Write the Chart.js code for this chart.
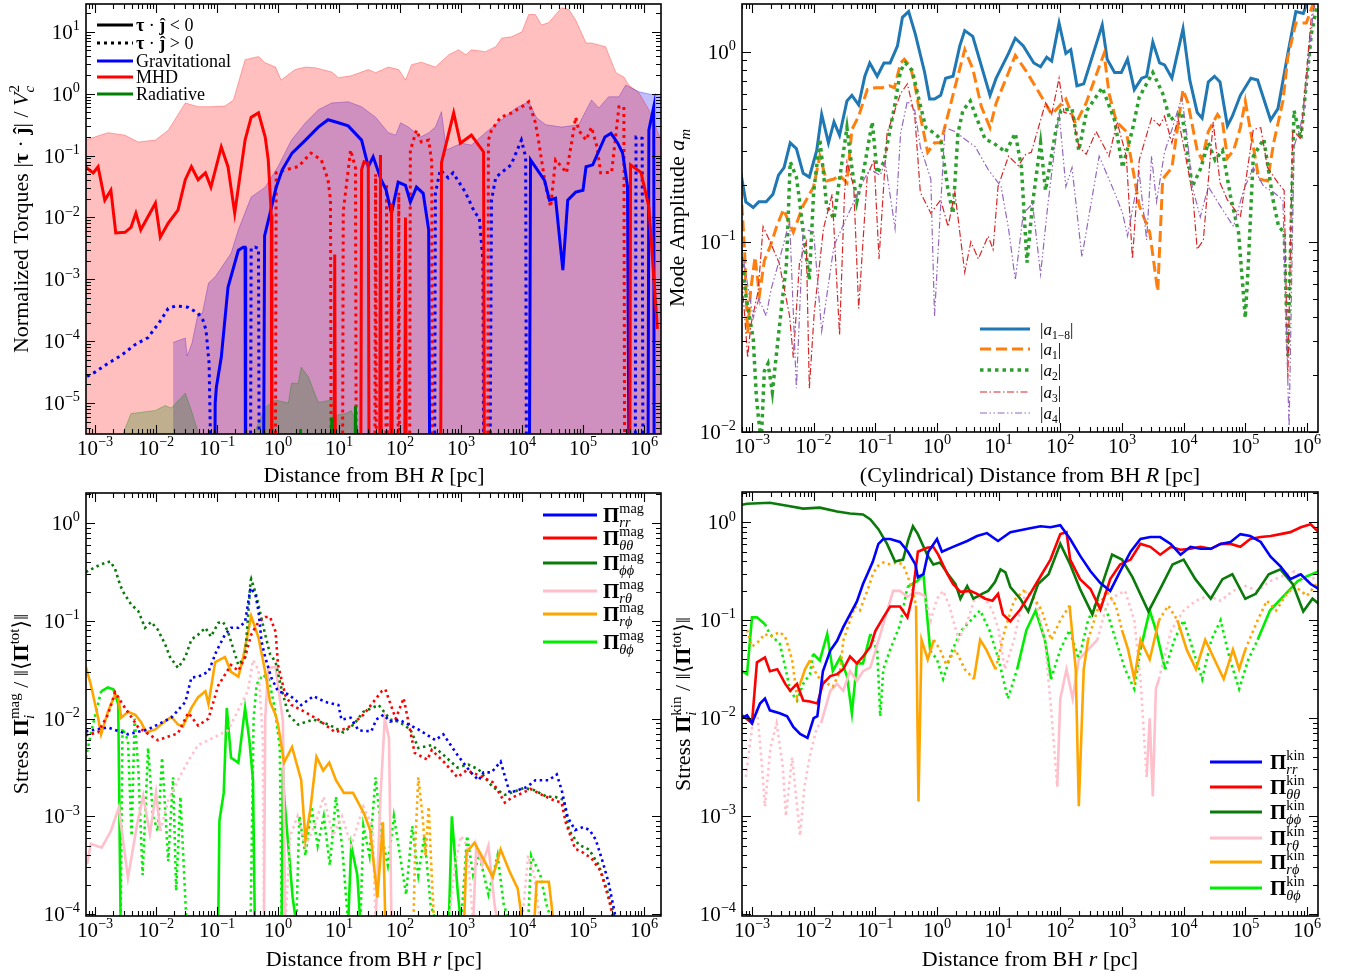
<!DOCTYPE html>
<html>
<head>
<meta charset="utf-8">
<script src="https://cdn.jsdelivr.net/npm/chart.js@4.4.1/dist/chart.umd.min.js"></script>
<style>
  body { margin: 0; background: #fff; width: 1353px; height: 978px; overflow: hidden; position: relative; }
  canvas { position: absolute; }
</style>
</head>
<body>
<canvas id="torques" width="662" height="489" style="left:0;top:0"></canvas>
<canvas id="modes" width="691" height="489" style="left:662px;top:0"></canvas>
<canvas id="stressMag" width="662" height="489" style="left:0;top:489px"></canvas>
<canvas id="stressKin" width="691" height="489" style="left:662px;top:489px"></canvas>
<script>
// all series are [log10 R, log10 value]; null = gap, -9 = sign flip (drops off the axis)

// ---- torques panel
const torqueEnvMHD = [[-3.16,-0.75],[-2.79,-0.63],[-2.51,-0.67],[-2.29,-0.78],[-2.01,-0.75],[-1.80,-0.59],[-1.52,-0.15],[-1.31,-0.21],[-1.10,-0.21],[-0.87,-0.20],[-0.73,-0.10],[-0.54,0.55],[-0.32,0.60],[-0.21,0.50],[-0.04,0.43],[0.05,0.22],[0.28,0.39],[0.45,0.43],[0.61,0.42],[0.88,0.35],[0.99,0.26],[1.20,0.29],[1.48,0.39],[1.60,0.34],[1.81,0.43],[1.98,0.39],[2.09,0.22],[2.19,0.47],[2.35,0.51],[2.58,0.43],[2.80,0.63],[2.96,0.71],[3.08,0.63],[3.17,0.71],[3.40,0.68],[3.57,0.76],[3.67,0.90],[3.83,0.92],[4.00,1.00],[4.11,1.28],[4.22,1.28],[4.32,1.11],[4.44,1.15],[4.65,1.39],[4.77,1.36],[4.88,1.19],[5.05,0.82],[5.14,0.82],[5.37,0.76],[5.54,0.34],[5.67,0.27],[5.75,0.14],[5.92,0.01],[6.08,-0.26],[6.28,-0.75]];
const torqueEnvGrav = [[-1.72,-4.02],[-1.52,-3.95],[-1.49,-4.24],[-1.41,-4.03],[-1.31,-3.55],[-1.24,-3.55],[-1.14,-3.06],[-1.03,-2.96],[-0.77,-2.58],[-0.65,-2.20],[-0.44,-1.67],[-0.21,-1.51],[0.00,-1.18],[0.22,-0.75],[0.45,-0.47],[0.66,-0.26],[0.88,-0.15],[1.15,-0.13],[1.37,-0.21],[1.60,-0.38],[1.81,-0.63],[1.93,-0.67],[2.01,-0.47],[2.14,-0.54],[2.34,-0.70],[2.47,-0.63],[2.58,-0.54],[2.68,-0.29],[2.76,-0.91],[3.01,-0.80],[3.17,-0.83],[3.40,-0.63],[3.67,-0.42],[3.90,-0.23],[4.11,-0.13],[4.24,-0.39],[4.39,-0.50],[4.65,-0.54],[4.93,-0.50],[5.14,-0.10],[5.26,-0.23],[5.42,-0.05],[5.59,-0.05],[5.70,0.14],[5.92,0.03],[6.16,-0.02],[6.28,-0.04]];
const torqueEnvRad = [[-2.54,-5.49],[-2.41,-5.17],[-2.24,-5.15],[-2.01,-5.12],[-1.85,-5.04],[-1.75,-5.08],[-1.52,-4.84],[-1.42,-5.12],[-1.31,-5.47],[-1.29,-9],[-0.39,-9],[-0.37,-5.44],[-0.21,-5.07],[-0.04,-4.95],[0.17,-5.00],[0.22,-4.68],[0.33,-4.68],[0.38,-4.42],[0.50,-4.58],[0.66,-4.99],[0.88,-4.95],[0.94,-5.20],[1.11,-5.17],[1.20,-5.12],[1.27,-5.28],[1.32,-5.5],[1.34,-9]];
const torqueGravNeg = [[-1.05,-9],[-1.03,-5.0],[-1.01,-4.74],[-0.93,-4.26],[-0.82,-3.13],[-0.65,-2.53],[-0.57,-2.48],[-0.54,-2.48],[-0.53,-9],[-0.52,null],
  [-0.25,-9],[-0.22,-2.3],[-0.13,-1.93],[-0.03,-1.51],[0.07,-1.23],[0.23,-0.96],[0.45,-0.75],[0.66,-0.54],[0.82,-0.42],[0.99,-0.47],[1.15,-0.52],[1.37,-0.75],[1.48,-1.18],[1.56,-1.02],[1.69,-1.39],[1.77,-1.55],[1.86,-1.93],[1.97,-1.43],[2.09,-1.48],[2.17,-1.75],[2.27,-1.51],[2.38,-1.61],[2.47,-2.2],[2.50,-9],[2.51,null],
  [4.11,-9],[4.14,-1.07],[4.37,-1.40],[4.45,-1.72],[4.55,-1.69],[4.67,-2.85],[4.75,-1.72],[4.88,-1.59],[5.00,-1.56],[5.05,-1.18],[5.16,-1.15],[5.36,-0.70],[5.46,-0.64],[5.57,-0.80],[5.65,-0.96],[5.73,-1.5],[5.77,-9],[5.78,null],
  [6.06,-9],[6.08,-0.59],[6.16,-0.21],[6.17,-9]];
const torqueGravPos = [[-3.13,-4.57],[-3.0,-4.50],[-2.79,-4.36],[-2.57,-4.23],[-2.35,-4.06],[-2.13,-3.94],[-1.92,-3.66],[-1.80,-3.47],[-1.67,-3.43],[-1.48,-3.45],[-1.31,-3.55],[-1.23,-3.66],[-1.18,-3.82],[-1.13,-4.36],[-1.11,-5.44],[-1.10,-9],[-1.09,null],
  [-0.46,-9],[-0.44,-2.5],[-0.38,-2.48],[-0.32,-2.5],[-0.30,-9],[-0.29,null],
  [2.56,-9],[2.58,-1.61],[2.66,-1.23],[2.79,-1.36],[2.87,-1.28],[3.07,-1.59],[3.23,-1.93],[3.30,-2.0],[3.36,-2.7],[3.38,-9],[3.39,null],
  [3.46,-9],[3.50,-1.72],[3.57,-1.35],[3.82,-1.15],[3.99,-0.75],[4.06,-1.02],[4.08,-9],[4.09,null],
  [5.85,-9],[5.87,-0.70],[5.97,-0.72],[5.99,-9]];
const torqueMHDNeg = [[-3.16,-1.18],[-3.03,-1.28],[-2.95,-1.18],[-2.84,-1.72],[-2.74,-1.56],[-2.66,-2.25],[-2.51,-2.24],[-2.41,-2.16],[-2.33,-1.93],[-2.25,-2.20],[-2.01,-1.77],[-1.93,-2.32],[-1.80,-2.09],[-1.64,-1.88],[-1.52,-1.39],[-1.42,-1.18],[-1.31,-1.39],[-1.19,-1.28],[-1.10,-1.51],[-0.93,-0.86],[-0.82,-1.18],[-0.71,-1.93],[-0.54,-0.75],[-0.44,-0.38],[-0.32,-0.31],[-0.21,-0.70],[-0.16,-1.07],[-0.11,-1.96],[-0.10,-9],[-0.09,null],
  [0.91,-9],[0.93,-2.6],[0.95,-9],[0.96,null],
  [1.35,-9],[1.37,-1.23],[1.41,-1.10],[1.48,-1.13],[1.50,-9],[1.51,null],
  [1.66,-9],[1.68,-0.99],[1.70,-9],[1.71,null],
  [1.84,-9],[1.86,-1.77],[1.88,-9],[1.89,null],
  [2.07,-9],[2.09,-2.0],[2.11,-9],[2.12,null],
  [2.66,-9],[2.68,-1.12],[2.88,-0.31],[2.99,-0.80],[3.17,-0.67],[3.37,-0.94],[3.39,-9],[3.40,null],
  [5.76,-9],[5.78,-1.15],[5.95,-1.27],[6.08,-1.83],[6.22,-3.8]];
const torqueMHDPos = [[-0.05,-9],[-0.03,-1.28],[0.12,-1.23],[0.33,-1.18],[0.54,-0.96],[0.71,-1.07],[0.82,-1.39],[0.86,-1.72],[0.88,-9],[0.89,null],
  [1.05,-9],[1.07,-1.9],[1.19,-0.91],[1.27,-1.2],[1.29,-9],[1.30,null],
  [1.58,-9],[1.60,-1.3],[1.62,-9],[1.63,null],
  [1.76,-9],[1.78,-1.45],[1.80,-9],[1.81,null],
  [1.96,-9],[1.98,-1.6],[2.0,-9],[2.01,null],
  [2.15,-9],[2.17,-0.91],[2.27,-0.59],[2.35,-0.78],[2.47,-0.75],[2.52,-1.1],[2.54,-9],[2.55,null],
  [3.43,-9],[3.45,-0.75],[3.50,-0.59],[3.65,-0.38],[3.83,-0.31],[4.00,-0.21],[4.11,-0.13],[4.22,-0.47],[4.27,-0.75],[4.39,-1.51],[4.47,-1.83],[4.55,-1.07],[4.65,-1.18],[4.73,-1.28],[4.82,-0.75],[4.88,-0.38],[4.93,-0.59],[5.05,-0.75],[5.14,-0.54],[5.23,-0.86],[5.29,-1.28],[5.47,-1.27],[5.59,-0.21],[5.67,-0.21],[5.69,-9]];
const torqueRad = [[0.35,-9],[0.37,-5.42],[0.39,-9],[0.40,null],[0.86,-9],[0.88,-5.23],[0.92,-9],[0.93,null],[1.24,-9],[1.27,-5.05],[1.30,-9]];

// ---- mode amplitude panel
const modeA18 = [[-3.23,-0.46],[-3.18,-0.64],[-3.10,-0.79],[-2.98,-0.82],[-2.89,-0.79],[-2.77,-0.79],[-2.66,-0.75],[-2.57,-0.65],[-2.48,-0.61],[-2.38,-0.48],[-2.28,-0.51],[-2.17,-0.64],[-2.07,-0.66],[-1.95,-0.52],[-1.87,-0.33],[-1.76,-0.48],[-1.67,-0.37],[-1.58,-0.44],[-1.46,-0.26],[-1.38,-0.23],[-1.27,-0.28],[-1.17,-0.13],[-1.09,-0.06],[-0.97,-0.13],[-0.86,-0.06],[-0.76,-0.06],[-0.64,0.03],[-0.56,0.18],[-0.46,0.21],[-0.35,0.09],[-0.20,-0.11],[-0.12,-0.25],[-0.04,-0.25],[0.06,-0.23],[0.14,-0.14],[0.26,-0.13],[0.37,0.03],[0.45,0.11],[0.58,0.08],[0.86,-0.23],[0.96,-0.14],[1.16,-0.01],[1.27,0.07],[1.40,0.03],[1.57,-0.06],[1.68,-0.08],[1.78,-0.03],[1.86,-0.05],[1.98,0.15],[2.09,-0.01],[2.17,0.01],[2.27,-0.18],[2.38,-0.17],[2.68,0.14],[2.76,-0.04],[2.88,-0.11],[2.99,-0.11],[3.09,-0.04],[3.20,-0.20],[3.32,-0.14],[3.40,-0.13],[3.50,0.05],[3.61,-0.06],[3.69,-0.07],[3.81,-0.14],[3.99,0.12],[4.10,-0.15],[4.22,-0.32],[4.30,-0.35],[4.40,-0.16],[4.50,-0.13],[4.59,-0.16],[4.71,-0.39],[4.79,-0.34],[4.92,-0.23],[5.09,-0.14],[5.20,-0.15],[5.41,-0.36],[5.53,-0.30],[5.69,-0.01],[5.82,0.21],[5.94,0.20],[6.02,0.27],[6.15,0.35]];
const modeA1 = [[-3.23,-0.87],[-3.18,-0.72],[-3.12,-1.05],[-3.07,-1.48],[-3.02,-1.25],[-2.95,-1.08],[-2.88,-1.28],[-2.80,-1.10],[-2.70,-1.02],[-2.60,-0.92],[-2.49,-0.83],[-2.33,-0.95],[-2.17,-0.81],[-2.00,-0.71],[-1.90,-0.55],[-1.79,-0.68],[-1.67,-0.67],[-1.58,-0.65],[-1.46,-0.69],[-1.38,-0.41],[-1.27,-0.34],[-1.13,-0.20],[-1.00,-0.19],[-0.89,-0.19],[-0.77,-0.18],[-0.69,-0.19],[-0.59,-0.06],[-0.53,-0.04],[-0.43,-0.08],[-0.35,-0.19],[-0.27,-0.34],[-0.15,-0.53],[-0.04,-0.48],[0.06,-0.48],[0.18,-0.33],[0.29,-0.19],[0.45,0.01],[0.58,-0.09],[0.72,-0.29],[0.86,-0.40],[0.96,-0.27],[1.16,-0.11],[1.27,-0.02],[1.44,-0.10],[1.70,-0.24],[1.86,-0.33],[2.09,-0.25],[2.25,-0.38],[2.42,-0.27],[2.63,-0.08],[2.71,-0.01],[2.79,-0.22],[2.91,-0.37],[3.07,-0.42],[3.28,-0.81],[3.45,-0.95],[3.58,-1.26],[3.66,-0.67],[3.81,-0.61],[3.94,-0.31],[3.99,-0.20],[4.07,-0.27],[4.22,-0.52],[4.30,-0.57],[4.40,-0.42],[4.55,-0.33],[4.63,-0.37],[4.71,-0.56],[4.81,-0.52],[4.92,-0.40],[5.00,-0.26],[5.13,-0.50],[5.22,-0.67],[5.36,-0.68],[5.46,-0.48],[5.61,-0.26],[5.69,-0.03],[5.82,0.15],[5.99,0.15],[6.12,0.27]];
const modeA2 = [[-3.23,-0.97],[-3.18,-1.04],[-3.10,-1.28],[-2.98,-1.51],[-2.93,-1.81],[-2.90,-1.91],[-2.85,-2.05],[-2.80,-1.68],[-2.74,-1.64],[-2.67,-1.79],[-2.56,-1.46],[-2.44,-1.11],[-2.38,-0.58],[-2.28,-0.66],[-2.23,-0.78],[-2.17,-0.95],[-2.07,-1.20],[-2.00,-0.74],[-1.90,-0.46],[-1.84,-0.64],[-1.79,-0.81],[-1.67,-0.88],[-1.58,-0.67],[-1.46,-0.40],[-1.38,-0.61],[-1.30,-0.79],[-1.18,-0.61],[-1.05,-0.37],[-0.97,-0.64],[-0.86,-0.58],[-0.69,-0.29],[-0.59,-0.10],[-0.51,-0.06],[-0.40,-0.10],[-0.28,-0.27],[-0.18,-0.40],[-0.04,-0.43],[0.06,-0.46],[0.18,-0.73],[0.26,-0.85],[0.34,-0.43],[0.42,-0.31],[0.54,-0.26],[0.63,-0.34],[0.78,-0.46],[0.91,-0.48],[1.04,-0.51],[1.11,-0.53],[1.27,-0.43],[1.37,-0.61],[1.46,-1.11],[1.55,-0.80],[1.68,-0.48],[1.76,-0.73],[1.93,-0.41],[2.01,-0.31],[2.19,-0.30],[2.30,-0.52],[2.43,-0.31],[2.68,-0.19],[2.88,-0.36],[3.01,-0.61],[3.17,-0.41],[3.28,-0.24],[3.50,-0.11],[3.66,-0.22],[3.78,-0.36],[3.97,-0.32],[4.14,-0.71],[4.27,-0.62],[4.40,-0.48],[4.51,-0.57],[4.63,-0.52],[4.76,-0.76],[4.89,-0.95],[5.00,-1.40],[5.05,-1.11],[5.13,-0.55],[5.30,-0.46],[5.45,-0.78],[5.54,-0.92],[5.63,-0.95],[5.69,-1.6],[5.79,-0.31],[5.90,-0.46],[6.07,0.09],[6.18,0.27]];
const modeA3 = [[-3.23,-0.93],[-3.13,-1.34],[-3.07,-1.61],[-3.02,-1.44],[-2.90,-1.26],[-2.82,-0.92],[-2.72,-0.99],[-2.56,-1.11],[-2.39,-1.39],[-2.33,-1.61],[-2.23,-1.11],[-2.12,-1.00],[-2.07,-1.77],[-1.99,-1.37],[-1.84,-0.93],[-1.70,-0.75],[-1.58,-1.49],[-1.50,-0.75],[-1.46,-0.58],[-1.35,-0.71],[-1.27,-1.35],[-1.13,-0.65],[-1.02,-0.57],[-0.94,-1.09],[-0.81,-0.43],[-0.59,-0.22],[-0.48,-0.17],[-0.36,-0.34],[-0.27,-0.74],[-0.10,-0.85],[0.06,-0.78],[0.18,-0.92],[0.29,-0.74],[0.45,-1.16],[0.55,-1.0],[0.67,-1.09],[0.83,-0.97],[0.91,-1.04],[0.99,-0.71],[1.16,-0.55],[1.32,-0.60],[1.44,-0.54],[1.53,-0.53],[1.76,-0.27],[1.86,-0.33],[1.98,-0.14],[2.06,-0.32],[2.19,-0.33],[2.30,-0.50],[2.42,-0.54],[2.58,-0.42],[2.79,-0.55],[2.92,-0.37],[3.07,-0.55],[3.17,-1.09],[3.28,-0.57],[3.48,-0.35],[3.61,-0.39],[3.69,-0.34],[3.81,-0.48],[3.91,-0.35],[4.02,-0.53],[4.15,-0.76],[4.22,-1.04],[4.32,-0.99],[4.48,-0.37],[4.59,-0.69],[4.71,-0.78],[4.92,-0.87],[5.13,-0.41],[5.25,-0.40],[5.36,-0.61],[5.53,-0.69],[5.63,-0.73],[5.69,-1.72],[5.77,-0.41],[5.90,-0.46],[6.07,0.18],[6.15,0.27]];
const modeA4 = [[-3.21,-1.20],[-3.13,-1.11],[-2.98,-1.40],[-2.89,-1.30],[-2.77,-1.39],[-2.69,-1.25],[-2.56,-1.10],[-2.39,-0.89],[-2.28,-1.77],[-2.17,-0.93],[-2.00,-0.95],[-1.87,-1.47],[-1.67,-1.02],[-1.46,-0.87],[-1.18,-0.67],[-1.09,-0.62],[-0.92,-0.65],[-0.84,-0.58],[-0.68,-0.93],[-0.59,-0.43],[-0.48,-0.26],[-0.36,-0.31],[-0.27,-0.50],[-0.10,-0.67],[-0.04,-1.39],[0.13,-0.40],[0.29,-0.42],[0.45,-0.46],[0.62,-0.50],[0.83,-0.62],[1.04,-0.71],[1.16,-0.93],[1.27,-1.20],[1.40,-0.85],[1.55,-0.80],[1.68,-1.17],[1.80,-0.80],[1.98,-0.32],[2.09,-0.71],[2.19,-0.61],[2.35,-1.08],[2.63,-0.55],[2.88,-0.74],[3.01,-0.85],[3.09,-0.97],[3.28,-0.64],[3.40,-0.99],[3.48,-0.55],[3.56,-0.79],[3.69,-0.53],[3.82,-0.40],[3.97,-0.24],[4.05,-0.43],[4.14,-0.71],[4.27,-0.87],[4.40,-0.71],[4.59,-0.81],[4.81,-0.92],[4.97,-0.73],[5.13,-0.61],[5.30,-0.71],[5.46,-0.74],[5.61,-0.78],[5.71,-1.98],[5.79,-0.50],[5.94,-0.34],[6.12,0.27]];

// ---- magnetic stress panel (dotted = positive, solid = negative)
const magRR = [[-3.15,-2.13],[-2.79,-2.09],[-2.46,-2.16],[-2.13,-2.11],[-1.97,-2.06],[-1.75,-1.99],[-1.52,-1.83],[-1.42,-1.58],[-1.31,-1.57],[-1.14,-1.52],[-1.01,-1.31],[-0.87,-1.14],[-0.77,-1.07],[-0.65,-1.07],[-0.54,-1.01],[-0.45,-0.66],[-0.37,-0.73],[-0.32,-0.90],[-0.27,-1.21],[-0.21,-1.37],[-0.11,-1.58],[0.00,-1.72],[0.17,-1.75],[0.38,-1.86],[0.58,-1.77],[0.78,-1.83],[0.99,-1.86],[1.04,-2.01],[1.19,-1.99],[1.32,-2.12],[1.53,-2.13],[1.61,-2.01],[1.73,-1.96],[1.84,-2.03],[1.98,-2.01],[2.14,-2.06],[2.30,-2.11],[2.58,-2.22],[2.71,-2.16],[2.94,-2.37],[3.16,-2.55],[3.29,-2.63],[3.37,-2.55],[3.50,-2.55],[3.65,-2.44],[3.80,-2.76],[4.08,-2.70],[4.22,-2.63],[4.44,-2.63],[4.57,-2.57],[4.65,-2.73],[4.75,-3.01],[4.87,-3.14],[5.00,-3.11],[5.11,-3.14],[5.21,-3.24],[5.33,-3.48],[5.42,-3.68],[5.54,-4.05]];
const magTT = [[-3.15,-2.17],[-2.95,-2.14],[-2.79,-1.96],[-2.67,-1.73],[-2.54,-1.86],[-2.29,-2.09],[-1.97,-2.22],[-1.64,-2.15],[-1.47,-1.94],[-1.31,-2.07],[-1.14,-2.0],[-0.98,-1.66],[-0.87,-1.55],[-0.77,-1.45],[-0.65,-1.51],[-0.54,-1.37],[-0.44,-1.14],[-0.32,-1.01],[-0.21,-0.96],[-0.13,-0.96],[-0.04,-1.11],[0.00,-1.45],[0.12,-1.76],[0.22,-1.86],[0.38,-1.91],[0.66,-2.01],[0.94,-2.14],[1.15,-2.09],[1.40,-1.96],[1.70,-1.72],[1.76,-1.70],[1.81,-1.79],[1.93,-2.0],[2.06,-1.79],[2.14,-2.04],[2.24,-2.35],[2.45,-2.42],[2.52,-2.32],[2.73,-2.45],[2.94,-2.60],[3.09,-2.53],[3.22,-2.56],[3.52,-2.65],[3.72,-2.86],[3.83,-2.81],[4.01,-2.76],[4.14,-2.72],[4.36,-2.79],[4.54,-2.84],[4.65,-2.86],[4.72,-3.07],[4.87,-3.33],[5.00,-3.37],[5.14,-3.43],[5.29,-3.56],[5.42,-3.84],[5.50,-4.05]];
const magPP = [[-3.15,-0.50],[-3.0,-0.45],[-2.90,-0.42],[-2.75,-0.39],[-2.67,-0.47],[-2.59,-0.63],[-2.54,-0.70],[-2.41,-0.83],[-2.29,-0.90],[-2.18,-1.07],[-2.08,-1.01],[-1.97,-1.09],[-1.85,-1.24],[-1.77,-1.37],[-1.64,-1.48],[-1.52,-1.37],[-1.42,-1.19],[-1.31,-1.14],[-1.19,-1.07],[-1.10,-1.16],[-0.98,-1.02],[-0.90,-1.01],[-0.82,-1.11],[-0.65,-1.45],[-0.54,-1.37],[-0.45,-0.59],[-0.44,-0.57],[-0.36,-0.73],[-0.21,-1.14],[-0.13,-1.34],[-0.04,-1.42],[0.04,-1.65],[0.17,-1.96],[0.33,-2.06],[0.58,-2.01],[0.83,-2.06],[1.07,-2.14],[1.24,-2.06],[1.40,-1.93],[1.65,-1.86],[1.84,-2.01],[1.98,-2.03],[2.17,-2.11],[2.30,-2.30],[2.52,-2.27],[2.71,-2.37],[2.94,-2.50],[3.12,-2.47],[3.29,-2.52],[3.52,-2.70],[3.72,-2.78],[3.86,-2.75],[4.03,-2.71],[4.19,-2.73],[4.41,-2.80],[4.54,-2.80],[4.68,-2.83],[4.77,-3.14],[4.93,-3.29],[5.10,-3.34],[5.26,-3.50],[5.42,-3.81],[5.52,-4.05]];
const magRPneg = [[-3.15,-1.47],[-3.07,-1.65],[-2.95,-1.99],[-2.90,-2.16],[-2.79,-1.93],[-2.67,-1.75],[-2.62,-1.78],[-2.57,-1.99],[-2.46,-1.93],[-2.34,-1.96],[-2.25,-2.03],[-2.16,-2.14],[-2.01,-2.11],[-1.92,-2.06],[-1.75,-1.98],[-1.64,-2.06],[-1.56,-2.08],[-1.42,-1.89],[-1.31,-1.78],[-1.19,-1.72],[-1.14,-1.85],[-1.03,-1.42],[-0.87,-1.37],[-0.77,-1.52],[-0.65,-1.57],[-0.57,-1.37],[-0.49,-1.11],[-0.44,-0.95],[-0.32,-1.17],[-0.21,-1.52],[-0.13,-1.83],[-0.04,-1.96],[0.00,-2.06],[0.10,-2.45],[0.23,-2.29],[0.38,-2.63],[0.45,-3.24],[0.53,-2.93],[0.63,-2.39],[0.74,-2.53],[0.84,-2.45],[0.95,-2.63],[1.08,-2.76],[1.23,-2.76],[1.41,-2.97],[1.51,-3.14],[1.63,-3.83],[1.72,-3.06],[1.76,-4.1],[1.77,null],
  [3.05,-4.1],[3.09,-3.37],[3.22,-3.27],[3.37,-3.44],[3.52,-3.62],[3.65,-3.34],[3.80,-3.57],[3.93,-3.74],[4.01,-4.1],[4.02,null],[4.20,-4.1],[4.24,-3.67],[4.32,-3.67],[4.44,-3.67],[4.52,-4.1]];
const magRPpos = [[2.22,-4.1],[2.25,-3.3],[2.30,-2.6],[2.37,-3.0],[2.42,-3.4],[2.47,-2.9],[2.52,-3.6],[2.56,-4.1]];
const magRTneg = [[-3.13,-3.49],[-3.07,-3.28],[-2.89,-3.32],[-2.74,-3.15],[-2.61,-2.91],[-2.46,-3.63],[-2.31,-3.08],[-2.21,-2.79],[-2.10,-3.18],[-2.00,-2.76],[-1.93,-3.15],[-1.92,null],
  [-0.23,-4.1],[-0.21,-2.0],[-0.16,-1.48],[-0.04,-1.47],[0.0,-1.66],[0.08,-2.02],[0.12,-4.1],[0.13,null],
  [1.60,-4.1],[1.68,-2.8],[1.75,-2.0],[1.82,-2.2],[1.86,-4.1],[1.87,null],
  [3.20,-4.1],[3.25,-3.3],[3.35,-3.5],[3.45,-3.3],[3.55,-3.9],[3.60,-4.1]];
const magRTpos = [[-1.93,-3.15],[-1.80,-2.84],[-1.64,-2.63],[-1.47,-2.43],[-1.31,-2.27],[-1.14,-2.22],[-0.98,-2.17],[-0.82,-2.12],[-0.65,-1.91],[-0.49,-1.71],[-0.41,-1.40],[-0.32,-1.5],[-0.25,-2.2],[-0.23,-4.1],[-0.22,null],
  [0.12,-4.1],[0.20,-3.2],[0.32,-3.0],[0.45,-3.3],[0.60,-3.1],[0.75,-2.8],[0.90,-3.2],[1.05,-3.0],[1.20,-3.3],[1.40,-2.9],[1.55,-3.1],[1.60,-4.1],[1.61,null],
  [2.80,-4.1],[2.90,-3.5],[3.00,-3.2],[3.10,-3.3],[3.20,-4.1],[3.21,null],
  [4.00,-4.1],[4.10,-3.4],[4.20,-3.6],[4.30,-4.1]];
const magTPneg = [[-2.90,-1.72],[-2.79,-1.68],[-2.70,-1.70],[-2.62,-1.85],[-2.58,-4.1],[-2.57,null],
  [-0.98,-4.1],[-0.96,-3.04],[-0.89,-2.76],[-0.84,-1.89],[-0.77,-2.40],[-0.65,-2.45],[-0.54,-1.89],[-0.47,-2.22],[-0.41,-2.63],[-0.38,-4.1],[-0.37,null],
  [0.06,-4.1],[0.08,-2.5],[0.10,-2.79],[0.24,-3.83],[0.30,-4.1],[0.31,null],
  [1.15,-4.1],[1.20,-3.3],[1.30,-3.6],[1.35,-4.1],[1.36,null],
  [2.80,-4.1],[2.85,-3.0],[2.95,-3.8],[3.00,-4.1]];
const magTPpos = [[-3.15,-2.4],[-3.05,-2.1],[-2.95,-1.85],[-2.90,-1.72],[-2.89,null],
  [-2.58,-4.1],[-2.55,-2.1],[-2.46,-2.22],[-2.40,-3.2],[-2.35,-2.0],[-2.29,-2.52],[-2.22,-3.6],[-2.13,-2.3],[-2.05,-3.0],[-1.97,-3.15],[-1.90,-2.4],[-1.80,-3.46],[-1.72,-2.6],[-1.67,-3.76],[-1.60,-2.8],[-1.50,-4.1],[-1.49,null],
  [-0.45,-4.1],[-0.40,-2.0],[-0.35,-1.65],[-0.25,-1.55],[-0.15,-1.6],[-0.05,-1.9],[0.03,-2.3],[0.06,-4.1],[0.07,null],
  [0.30,-4.1],[0.35,-3.0],[0.45,-3.4],[0.55,-2.9],[0.65,-3.3],[0.75,-3.0],[0.85,-3.5],[0.95,-2.8],[1.05,-3.3],[1.15,-4.1],[1.16,null],
  [1.35,-4.1],[1.40,-3.1],[1.50,-3.4],[1.60,-2.6],[1.70,-3.2],[1.80,-3.5],[1.90,-3.0],[2.00,-3.4],[2.10,-3.8],[2.20,-3.1],[2.30,-3.6],[2.40,-3.2],[2.50,-3.9],[2.60,-4.1],[2.61,null],
  [3.00,-4.1],[3.10,-3.2],[3.20,-3.6],[3.30,-3.4],[3.45,-3.8],[3.60,-3.4],[3.70,-3.9],[3.80,-4.1],[3.81,null],
  [4.10,-4.1],[4.15,-3.4],[4.30,-3.6],[4.40,-3.9],[4.50,-4.1]];

// ---- kinetic stress panel
const kinPP = [[-3.16,0.18],[-3.08,0.19],[-2.71,0.20],[-2.43,0.17],[-2.17,0.14],[-1.90,0.15],[-1.62,0.11],[-1.41,0.09],[-1.20,0.08],[-1.08,0.03],[-0.95,-0.07],[-0.81,-0.22],[-0.68,-0.40],[-0.55,-0.38],[-0.47,-0.19],[-0.39,-0.04],[-0.31,-0.12],[-0.16,-0.33],[-0.06,-0.43],[0.05,-0.41],[0.18,-0.53],[0.30,-0.63],[0.38,-0.78],[0.49,-0.65],[0.59,-0.78],[0.73,-0.73],[0.83,-0.70],[0.94,-0.61],[1.03,-0.48],[1.11,-0.51],[1.19,-0.66],[1.35,-0.78],[1.48,-0.91],[1.64,-0.63],[1.81,-0.53],[2.0,-0.22],[2.16,-0.43],[2.32,-0.68],[2.52,-0.94],[2.68,-0.63],[2.84,-0.33],[3.0,-0.38],[3.17,-0.56],[3.43,-0.91],[3.62,-0.68],[3.82,-0.43],[4.0,-0.38],[4.19,-0.58],[4.44,-0.78],[4.63,-0.58],[4.79,-0.53],[5.0,-0.78],[5.17,-0.73],[5.38,-0.53],[5.57,-0.48],[5.77,-0.63],[5.94,-0.91],[6.09,-0.78],[6.19,-0.83]];
const kinRR = [[-3.16,-2.0],[-3.08,-1.97],[-3.0,-2.05],[-2.87,-1.85],[-2.79,-1.80],[-2.71,-1.92],[-2.55,-1.95],[-2.43,-1.98],[-2.33,-2.09],[-2.22,-2.16],[-2.10,-2.2],[-2.0,-2.0],[-1.94,-1.98],[-1.85,-1.52],[-1.73,-1.31],[-1.62,-1.21],[-1.52,-1.07],[-1.41,-0.94],[-1.30,-0.81],[-1.20,-0.63],[-1.13,-0.53],[-1.04,-0.40],[-0.95,-0.22],[-0.87,-0.17],[-0.76,-0.17],[-0.60,-0.20],[-0.47,-0.30],[-0.35,-0.43],[-0.31,-0.56],[-0.22,-0.53],[-0.14,-0.30],[0.0,-0.17],[0.08,-0.30],[0.26,-0.25],[0.49,-0.19],[0.65,-0.14],[0.81,-0.11],[0.99,-0.19],[1.19,-0.10],[1.35,-0.08],[1.51,-0.06],[1.68,-0.04],[1.84,-0.05],[2.0,-0.03],[2.16,-0.17],[2.32,-0.34],[2.49,-0.50],[2.65,-0.62],[2.81,-0.70],[2.97,-0.50],[3.14,-0.30],[3.30,-0.17],[3.46,-0.15],[3.62,-0.15],[3.79,-0.22],[3.95,-0.33],[4.11,-0.25],[4.27,-0.27],[4.44,-0.27],[4.60,-0.22],[4.76,-0.20],[4.92,-0.12],[5.08,-0.14],[5.25,-0.20],[5.41,-0.35],[5.57,-0.45],[5.73,-0.58],[5.90,-0.53],[6.06,-0.63],[6.19,-0.68]];
const kinTT = [[-3.16,-1.97],[-3.0,-2.05],[-2.92,-1.43],[-2.79,-1.38],[-2.71,-1.52],[-2.59,-1.50],[-2.46,-1.65],[-2.38,-1.72],[-2.27,-1.65],[-2.17,-1.82],[-2.06,-1.83],[-1.94,-1.85],[-1.85,-1.65],[-1.73,-1.57],[-1.62,-1.55],[-1.52,-1.50],[-1.41,-1.37],[-1.30,-1.44],[-1.20,-1.37],[-1.08,-1.27],[-1.0,-1.11],[-0.87,-0.97],[-0.76,-0.86],[-0.60,-0.86],[-0.48,-0.97],[-0.40,-0.76],[-0.31,-0.30],[-0.16,-0.26],[-0.06,-0.25],[0.02,-0.33],[0.17,-0.53],[0.26,-0.63],[0.38,-0.71],[0.54,-0.70],[0.65,-0.73],[0.78,-0.78],[0.90,-0.80],[0.99,-0.73],[1.07,-0.94],[1.19,-1.01],[1.35,-0.89],[1.51,-0.73],[1.68,-0.55],[1.84,-0.38],[2.0,-0.12],[2.10,-0.10],[2.16,-0.38],[2.32,-0.58],[2.49,-0.68],[2.65,-0.89],[2.81,-0.58],[2.97,-0.43],[3.14,-0.38],[3.30,-0.22],[3.46,-0.25],[3.62,-0.33],[3.79,-0.25],[3.95,-0.28],[4.11,-0.27],[4.27,-0.25],[4.44,-0.27],[4.60,-0.22],[4.76,-0.22],[4.92,-0.25],[5.08,-0.17],[5.25,-0.15],[5.41,-0.14],[5.57,-0.12],[5.73,-0.10],[5.90,-0.05],[6.06,-0.02],[6.19,-0.10]];
const kinRTpos = [[-3.10,-2.6],[-3.0,-2.1],[-2.92,-1.9],[-2.85,-2.4],[-2.79,-2.9],[-2.70,-2.3],[-2.60,-2.05],[-2.50,-2.5],[-2.45,-3.0],[-2.35,-2.4],[-2.22,-3.2],[-2.15,-2.7],[-2.05,-2.35],[-1.95,-2.1],[-1.88,-2.05],[-1.87,null],
  [-0.20,-0.75],[-0.10,-1.0],[0.0,-0.78],[0.10,-0.70],[0.20,-0.85],[0.35,-1.2],[0.50,-1.0],[0.60,-0.80],[0.75,-0.75],[0.90,-0.90],[1.0,-1.1],[1.10,-1.5],[1.25,-1.2],[1.35,-0.90],[1.45,-0.70],[1.60,-0.80],[1.75,-1.2],[1.85,-1.9],[1.95,-2.7],[1.96,null],
  [2.60,-1.2],[2.75,-0.85],[2.90,-0.75],[3.05,-0.70],[3.20,-1.0],[3.30,-1.6],[3.40,-2.6],[3.41,null],
  [3.60,-1.6],[3.80,-1.1],[4.0,-0.9],[4.2,-0.8],[4.4,-0.75],[4.6,-0.8],[4.8,-0.7],[5.0,-0.65],[5.2,-0.7],[5.4,-0.6],[5.6,-0.55],[5.8,-0.5],[6.0,-0.6],[6.19,-0.55]];
const kinRTneg = [[-1.88,-2.05],[-1.73,-1.72],[-1.62,-1.65],[-1.52,-1.72],[-1.41,-1.52],[-1.30,-1.62],[-1.20,-1.52],[-1.08,-1.48],[-0.97,-1.25],[-0.81,-0.91],[-0.71,-0.70],[-0.60,-0.70],[-0.48,-0.76],[-0.40,-0.73],[-0.30,-0.72],[-0.20,-0.75],[-0.19,null],
  [1.95,-2.7],[2.0,-1.8],[2.1,-1.5],[2.2,-1.8],[2.3,-1.4],[2.45,-1.3],[2.6,-1.2],[2.61,null],
  [3.40,-2.6],[3.45,-2.0],[3.50,-2.8],[3.55,-1.7],[3.60,-1.6]];
const kinRPpos = [[-3.08,-1.10],[-3.0,-1.27],[-2.90,-1.22],[-2.79,-1.14],[-2.71,-1.17],[-2.55,-1.12],[-2.46,-1.17],[-2.35,-1.4],[-2.27,-1.78],[-2.22,-1.65],[-2.21,null],
  [-2.06,-1.41],[-1.94,-1.57],[-1.85,-1.62],[-1.69,-1.68],[-1.57,-1.52],[-1.52,-1.21],[-1.41,-1.0],[-1.33,-0.86],[-1.25,-0.9],[-1.13,-0.70],[-1.04,-0.53],[-0.97,-0.45],[-0.87,-0.41],[-0.76,-0.43],[-0.65,-0.41],[-0.55,-0.43],[-0.47,-0.56],[-0.39,-0.70],[-0.34,-0.85],[-0.33,null],
  [-0.05,-1.2],[0.05,-1.3],[0.15,-1.45],[0.30,-1.3],[0.45,-1.5],[0.60,-1.6],[0.61,null],
  [0.95,-1.5],[1.10,-1.1],[1.25,-0.8],[1.40,-0.7],[1.55,-0.75],[1.70,-0.9],[1.85,-1.2],[2.0,-1.0],[2.15,-0.85],[2.16,null],
  [2.45,-1.2],[2.60,-0.9],[2.75,-0.7],[2.90,-0.85],[3.0,-1.1],[3.01,null],
  [3.60,-1.0],[3.75,-0.85],[3.90,-1.0],[3.91,null],
  [5.0,-1.3],[5.2,-1.0],[5.35,-0.8],[5.5,-0.9],[5.65,-0.75],[5.8,-0.65],[6.0,-0.75],[6.19,-0.6]];
const kinRPneg = [[-2.22,-1.65],[-2.14,-1.5],[-2.06,-1.41],[-2.05,null],
  [-0.34,-0.85],[-0.30,-2.85],[-0.25,-1.2],[-0.15,-1.4],[-0.05,-1.2],[-0.04,null],
  [0.60,-1.6],[0.70,-1.2],[0.80,-1.3],[0.95,-1.5],[0.96,null],
  [2.15,-0.85],[2.25,-1.5],[2.30,-2.9],[2.38,-1.5],[2.45,-1.2],[2.46,null],
  [3.0,-1.1],[3.1,-1.3],[3.2,-1.6],[3.3,-1.2],[3.45,-1.4],[3.6,-1.0],[3.61,null],
  [3.9,-1.0],[4.05,-1.3],[4.2,-1.5],[4.35,-1.2],[4.5,-1.4],[4.65,-1.6],[4.8,-1.3],[4.9,-1.5],[5.0,-1.3]];
const kinTPneg = [[-3.16,-1.52],[-3.08,-1.55],[-3.0,-0.97],[-2.92,-0.97],[-2.79,-1.04],[-2.78,null],
  [-2.01,-1.34],[-1.90,-1.41],[-1.78,-1.14],[-1.69,-1.52],[-1.57,-1.38],[-1.46,-1.57],[-1.38,-1.95],[-1.30,-1.44],[-1.20,-1.44],[-1.08,-1.14],[-1.07,null],
  [-0.48,-0.66],[-0.32,-0.60],[-0.22,-0.53],[-0.11,-1.31],[-0.10,null],
  [1.30,-1.5],[1.45,-1.1],[1.60,-0.9],[1.75,-1.2],[1.85,-1.6],[1.86,null],
  [3.30,-1.3],[3.45,-0.9],[3.55,-1.1],[3.70,-1.5],[3.71,null],
  [5.2,-1.2],[5.4,-0.9],[5.55,-0.8],[5.7,-0.7],[5.85,-0.6],[6.0,-0.55],[6.19,-0.5]];
const kinTPpos = [[-2.79,-1.04],[-2.71,-1.14],[-2.55,-1.24],[-2.46,-1.48],[-2.38,-1.72],[-2.27,-1.82],[-2.17,-1.65],[-2.06,-1.55],[-2.01,-1.34],[-2.0,null],
  [-1.08,-1.14],[-0.97,-1.31],[-0.92,-1.98],[-0.87,-1.5],[-0.76,-1.3],[-0.60,-1.05],[-0.48,-0.66],[-0.47,null],
  [-0.11,-1.31],[0.0,-1.4],[0.10,-1.6],[0.25,-1.3],[0.40,-1.1],[0.55,-1.0],[0.70,-0.9],[0.85,-1.1],[1.0,-1.4],[1.15,-1.8],[1.30,-1.5],[1.31,null],
  [1.85,-1.6],[2.0,-1.3],[2.15,-1.1],[2.30,-1.4],[2.45,-1.0],[2.60,-0.8],[2.75,-0.9],[2.90,-1.2],[3.05,-1.5],[3.20,-1.7],[3.30,-1.3],[3.31,null],
  [3.70,-1.5],[3.85,-1.2],[4.0,-1.0],[4.15,-1.3],[4.30,-1.6],[4.45,-1.2],[4.60,-1.0],[4.75,-1.4],[4.90,-1.7],[5.05,-1.4],[5.20,-1.2]];

// axis ranges (log10) and labelled decades
const torqueX = [-3.148, 6.279], torqueY = [-5.5, 1.45];
const modeX = [-3.162, 6.179], modeY = [-2, 0.25];
const stressX = [-3.148, 6.279], stressY = [-4.02, 0.31];
const xDecades = [-3, -2, -1, 0, 1, 2, 3, 4, 5, 6];

const FONT = '"Liberation Serif", "DejaVu Serif", serif';
const pts = arr => arr.map(([lx, ly]) => ({ x: Math.pow(10, lx), y: ly === null ? null : Math.pow(10, ly) }));

function richDraw(ctx, segs, x, y, size, align, rot) {
  ctx.save();
  ctx.translate(x, y);
  if (rot) ctx.rotate(rot);
  ctx.fillStyle = '#000';
  ctx.textBaseline = 'alphabetic';
  ctx.textAlign = 'left';
  const items = segs.map(s => {
    const st = s[1] || '';
    const small = st.includes('^') || st.includes('_');
    const font = (st.includes('i') ? 'italic ' : '') + (st.includes('b') ? 'bold ' : '') + (small ? size * 0.68 : size) + 'px ' + FONT;
    ctx.font = font;
    return { t: s[0], font, w: ctx.measureText(s[0]).width, dy: st.includes('^') ? -size * 0.42 : (st.includes('_') ? size * 0.26 : 0), hold: st.includes('&') };
  });
  let cx = 0, pend = 0;
  const pos = [];
  for (const it of items) {
    pos.push(cx);
    if (it.hold) pend = it.w;
    else { cx += Math.max(it.w, pend); pend = 0; }
  }
  const off = align === 'center' ? -cx / 2 : (align === 'right' ? -cx : 0);
  items.forEach((it, i) => { ctx.font = it.font; ctx.fillText(it.t, off + pos[i], it.dy); });
  ctx.restore();
}

const expo = e => [['10'], [e < 0 ? '\u2212' + (-e) : String(e), '^']];

const decorPlugin = {
  id: 'decor',
  afterDatasetsDraw(chart, args, o) {
    const ctx = chart.ctx, a = chart.chartArea, sx = chart.scales.x, sy = chart.scales.y;
    ctx.save();
    ctx.strokeStyle = '#000';
    ctx.lineWidth = 1.1;
    ctx.beginPath();
    for (const [s, horiz] of [[sx, true], [sy, false]]) {
      const e0 = Math.floor(Math.log10(s.min)), e1 = Math.ceil(Math.log10(s.max));
      for (let e = e0; e <= e1; e++) {
        for (let m = 1; m < 10; m++) {
          const v = m * Math.pow(10, e);
          if (v < s.min || v > s.max) continue;
          const p = Math.round(s.getPixelForValue(v)) + 0.5;
          const len = m === 1 ? 9 : 5;
          if (horiz) {
            ctx.moveTo(p, a.bottom); ctx.lineTo(p, a.bottom - len);
            ctx.moveTo(p, a.top); ctx.lineTo(p, a.top + len);
          } else {
            ctx.moveTo(a.left, p); ctx.lineTo(a.left + len, p);
            ctx.moveTo(a.right, p); ctx.lineTo(a.right - len, p);
          }
        }
      }
    }
    ctx.stroke();
    ctx.lineWidth = 1.6;
    ctx.strokeRect(a.left, a.top, a.right - a.left, a.bottom - a.top);
    ctx.restore();

    for (const e of o.xDec) richDraw(ctx, expo(e), sx.getPixelForValue(Math.pow(10, e)), a.bottom + 21, 21, 'center');
    for (const e of o.yDec) richDraw(ctx, expo(e), a.left - 6, sy.getPixelForValue(Math.pow(10, e)) + 7, 21, 'right');
    for (const t of o.titles) richDraw(ctx, t.segs, t.x, t.y, t.size, 'center', t.rot || 0);

    const L = o.legend;
    if (L) {
      L.items.forEach((it, i) => {
        const y = L.ys[i];
        ctx.save();
        ctx.strokeStyle = it.c;
        ctx.lineWidth = it.w;
        ctx.lineCap = 'butt';
        ctx.setLineDash(it.dash || []);
        ctx.beginPath(); ctx.moveTo(L.x0, y); ctx.lineTo(L.x1, y); ctx.stroke();
        ctx.restore();
        richDraw(ctx, it.label, L.tx, y + L.dy, L.size, 'left');
      });
    }
  }
};

function line(data, color, width, dash, order) {
  return { data: pts(data), borderColor: color, borderWidth: width, borderDash: dash || [], borderCapStyle: 'butt',
    pointRadius: 0, fill: false, tension: 0, spanGaps: false, order };
}
function area(data, rgb, order) {
  return { data: pts(data), borderColor: 'rgba(' + rgb + ',0.3)', backgroundColor: 'rgba(' + rgb + ',0.25)', borderWidth: 1,
    pointRadius: 0, fill: 'start', tension: 0, order };
}

function makeChart(id, datasets, xr, yr, box, decor) {
  return new Chart(document.getElementById(id), {
    type: 'line',
    data: { datasets },
    options: {
      responsive: false,
      animation: false,
      devicePixelRatio: 1,
      layout: { padding: { top: box.top, right: box.right, left: 0, bottom: 0 } },
      plugins: { legend: { display: false }, tooltip: { enabled: false }, decor },
      scales: {
        x: { type: 'logarithmic', min: Math.pow(10, xr[0]), max: Math.pow(10, xr[1]),
             ticks: { display: false }, grid: { display: false }, border: { display: false },
             afterFit: s => { s.height = box.bottom; } },
        y: { type: 'logarithmic', min: Math.pow(10, yr[0]), max: Math.pow(10, yr[1]),
             ticks: { display: false }, grid: { display: false }, border: { display: false },
             afterFit: s => { s.width = box.left; } }
      }
    },
    plugins: [decorPlugin]
  });
}

const DOT = [3, 4], SDOT = [2.5, 3.5];

// torques
makeChart('torques', [
  area(torqueEnvGrav, '0,0,255', 12),
  area(torqueEnvMHD, '255,0,0', 11),
  area(torqueEnvRad, '0,128,0', 10),
  line(torqueGravPos, '#0000ff', 3, DOT, 4),
  line(torqueMHDPos, '#ff0000', 3, DOT, 3),
  line(torqueGravNeg, '#0000ff', 3, [], 2),
  line(torqueMHDNeg, '#ff0000', 3, [], 1),
  line(torqueRad, '#008000', 3, [], 0)
], torqueX, torqueY, { left: 86, top: 4, right: 1, bottom: 55 }, {
  xDec: xDecades, yDec: [-5, -4, -3, -2, -1, 0, 1],
  titles: [
    { segs: [['Distance from BH '], ['R', 'i'], [' [pc]']], x: 374, y: 482, size: 22 },
    { segs: [['Normalized Torques |'], ['\u03c4', 'b'], [' \u00b7 '], ['\u0135', 'b'], ['| / '], ['V', 'i'], ['2', '^&'], ['c', 'i_']], x: 28, y: 219, size: 22, rot: -Math.PI / 2 }
  ],
  legend: { x0: 97, x1: 133, tx: 136, ys: [25, 43, 61, 77, 94], dy: 6, size: 18, items: [
    { c: '#000', w: 3, label: [['\u03c4', 'b'], [' \u00b7 '], ['\u0135', 'b'], [' < 0']] },
    { c: '#000', w: 3, dash: DOT, label: [['\u03c4', 'b'], [' \u00b7 '], ['\u0135', 'b'], [' > 0']] },
    { c: '#0000ff', w: 3, label: [['Gravitational']] },
    { c: '#ff0000', w: 3, label: [['MHD']] },
    { c: '#008000', w: 3, label: [['Radiative']] }
  ] }
});

// mode amplitudes
const modeStyles = {
  a18: { c: '#1f77b4', w: 3, dash: [] },
  a1: { c: '#ff7f0e', w: 3, dash: [11, 5] },
  a2: { c: '#2ca02c', w: 3.5, dash: [3.5, 4] },
  a3: { c: '#d62728', w: 1.2, dash: [7, 2.5, 1.5, 2.5] },
  a4: { c: '#9467bd', w: 1.2, dash: [7, 2.5, 1.5, 2.5, 1.5, 2.5] }
};
makeChart('modes', [
  line(modeA18, modeStyles.a18.c, modeStyles.a18.w, modeStyles.a18.dash, 4),
  line(modeA1, modeStyles.a1.c, modeStyles.a1.w, modeStyles.a1.dash, 3),
  line(modeA2, modeStyles.a2.c, modeStyles.a2.w, modeStyles.a2.dash, 2),
  line(modeA3, modeStyles.a3.c, modeStyles.a3.w, modeStyles.a3.dash, 1),
  line(modeA4, modeStyles.a4.c, modeStyles.a4.w, modeStyles.a4.dash, 0)
], modeX, modeY, { left: 80, top: 4, right: 35, bottom: 57 }, {
  xDec: xDecades, yDec: [-2, -1, 0],
  titles: [
    { segs: [['(Cylindrical) Distance from BH '], ['R', 'i'], [' [pc]']], x: 368, y: 482, size: 22 },
    { segs: [['Mode Amplitude '], ['a', 'i'], ['m', 'i_']], x: 22, y: 218, size: 22, rot: -Math.PI / 2 }
  ],
  legend: { x0: 318, x1: 368, tx: 378, ys: [329, 349, 370, 392, 413], dy: 6, size: 17, items: [
    Object.assign({ label: [['|'], ['a', 'i'], ['1\u22128', '_'], ['|']] }, modeStyles.a18),
    Object.assign({ label: [['|'], ['a', 'i'], ['1', '_'], ['|']] }, modeStyles.a1),
    Object.assign({ label: [['|'], ['a', 'i'], ['2', '_'], ['|']] }, modeStyles.a2),
    Object.assign({ label: [['|'], ['a', 'i'], ['3', '_'], ['|']] }, modeStyles.a3),
    Object.assign({ label: [['|'], ['a', 'i'], ['4', '_'], ['|']] }, modeStyles.a4)
  ] }
});

// stresses
const comps = [['rr', '#0000ff'], ['\u03b8\u03b8', '#ff0000'], ['\u03d5\u03d5', '#0a7a0a'], ['r\u03b8', '#ffc0cb'], ['r\u03d5', '#ffa500'], ['\u03b8\u03d5', '#00ee00']];
const C = Object.fromEntries(comps.map(([k, c], i) => [i, c]));
const stressLegend = (kind, x0, x1, tx, ys) => ({
  x0, x1, tx, ys, dy: 7, size: 21,
  items: comps.map(([sub, c]) => ({ c, w: 3, label: [['\u03a0', 'b'], [kind, '^&'], [sub, 'i_']] }))
});
const stressYTitle = kind => [['Stress '], ['\u03a0', 'b'], [kind, '^&'], ['i', 'i_'], [' / \u2016\u27e8'], ['\u03a0', 'b'], ['tot', '^'], ['\u27e9\u2016']];

makeChart('stressMag', [
  line(magTPpos, C[5], 2.6, SDOT, 11),
  line(magTPneg, C[5], 2.6, [], 10),
  line(magRTpos, C[3], 2.6, SDOT, 9),
  line(magRTneg, C[3], 2.6, [], 8),
  line(magRPpos, C[4], 2.6, SDOT, 7),
  line(magRPneg, C[4], 2.6, [], 6),
  line(magPP, C[2], 2.6, SDOT, 5),
  line(magTT, C[1], 2.6, SDOT, 4),
  line(magRR, C[0], 2.6, SDOT, 3)
], stressX, stressY, { left: 86, top: 4, right: 1, bottom: 62 }, {
  xDec: xDecades, yDec: [-4, -3, -2, -1, 0],
  titles: [
    { segs: [['Distance from BH '], ['r', 'i'], [' [pc]']], x: 374, y: 477, size: 22 },
    { segs: stressYTitle('mag'), x: 28, y: 215, size: 22, rot: -Math.PI / 2 }
  ],
  legend: stressLegend('mag', 543, 597, 603, [26, 49, 74, 102, 125, 153])
});

makeChart('stressKin', [
  line(kinTPpos, C[5], 2.6, SDOT, 11),
  line(kinTPneg, C[5], 2.6, [], 10),
  line(kinRTpos, C[3], 2.6, SDOT, 9),
  line(kinRTneg, C[3], 2.6, [], 8),
  line(kinRPpos, C[4], 2.6, SDOT, 7),
  line(kinRPneg, C[4], 2.6, [], 6),
  line(kinPP, C[2], 2.6, [], 5),
  line(kinTT, C[1], 2.6, [], 4),
  line(kinRR, C[0], 2.6, [], 3)
], modeX, stressY, { left: 80, top: 3, right: 35, bottom: 62 }, {
  xDec: xDecades, yDec: [-4, -3, -2, -1, 0],
  titles: [
    { segs: [['Distance from BH '], ['r', 'i'], [' [pc]']], x: 368, y: 477, size: 22 },
    { segs: stressYTitle('kin'), x: 28, y: 215, size: 22, rot: -Math.PI / 2 }
  ],
  legend: stressLegend('kin', 548, 600, 608, [273, 298, 323, 349, 373, 399])
});
</script>
</body>
</html>
